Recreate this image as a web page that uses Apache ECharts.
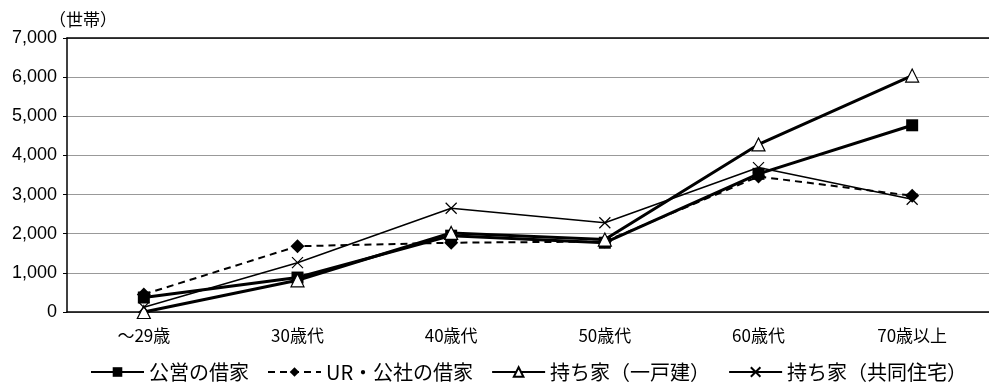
<!DOCTYPE html>
<html>
<head>
<meta charset="utf-8">
<script src="https://cdn.jsdelivr.net/npm/echarts@6/dist/echarts.min.js"></script>
<style>
  html, body { margin: 0; padding: 0; background: #fff; }
  #chart { width: 989px; height: 385px; }
</style>
</head>
<body>
<div id="chart"></div>
<script>
const categories = ['～29歳', '30歳代', '40歳代', '50歳代', '60歳代', '70歳以上'];
const koeiShakuya = [370, 880, 1950, 1770, 3530, 4770];
const urKoshaShakuya = [450, 1680, 1770, 1800, 3460, 2970];
const mochiieIkkodate = [0, 810, 2020, 1850, 4280, 6040];
const mochiieKyodo = [120, 1260, 2650, 2280, 3690, 2880];
const yTicks = [0, 1000, 2000, 3000, 4000, 5000, 6000, 7000];

const chart = echarts.init(document.getElementById('chart'));
const jp = '"Noto Sans CJK JP", sans-serif';
const num = '"Liberation Sans", Arial, sans-serif';

const option = {
    animation: false,
    grid: { left: 67, right: 0, top: 38, bottom: 73 },
    xAxis: [
        {
            type: 'category',
            data: categories,
            boundaryGap: true,
            axisLine: { lineStyle: { color: '#000', width: 1.5 } },
            axisTick: { inside: true, length: 6, lineStyle: { color: '#000' } },
            axisLabel: { color: '#000', fontSize: 17, fontFamily: jp, margin: 15 }
        },
        {
            type: 'category',
            position: 'top',
            data: categories,
            axisLine: { lineStyle: { color: '#000', width: 1.5 } },
            axisTick: { show: false },
            axisLabel: { show: false }
        }
    ],
    yAxis: {
        type: 'value',
        min: yTicks[0],
        max: yTicks[yTicks.length - 1],
        interval: 1000,
        name: '（世帯）',
        nameLocation: 'end',
        nameGap: 10,
        nameTextStyle: { color: '#000', fontSize: 17, fontFamily: jp, align: 'right', padding: [0, -50, 0, 0] },
        axisLine: { show: true, lineStyle: { color: '#000', width: 1.5 } },
        axisTick: { show: true, length: 4, lineStyle: { color: '#000' } },
        axisLabel: {
            color: '#000', fontSize: 18, fontFamily: num, margin: 10,
            formatter: v => v.toLocaleString('en-US')
        },
        splitLine: { lineStyle: { color: '#999', width: 1 } }
    },
    legend: {
        top: 357,
        left: 85,
        itemWidth: 53,
        itemHeight: 12,
        itemGap: 18,
        textStyle: { color: '#000', fontSize: 20, fontFamily: jp },
        data: ['公営の借家', 'UR・公社の借家', '持ち家（一戸建）', '持ち家（共同住宅）']
    },
    series: [
        {
            name: '公営の借家',
            type: 'line',
            data: koeiShakuya,
            symbol: 'rect',
            symbolSize: 12,
            lineStyle: { color: '#000', width: 3 },
            itemStyle: { color: '#000' }
        },
        {
            name: 'UR・公社の借家',
            type: 'line',
            data: urKoshaShakuya,
            symbol: 'diamond',
            symbolSize: 14,
            lineStyle: { color: '#000', width: 2, type: [7, 5] },
            itemStyle: { color: '#000' }
        },
        {
            name: '持ち家（一戸建）',
            type: 'line',
            data: mochiieIkkodate,
            symbol: 'triangle',
            symbolSize: 13,
            lineStyle: { color: '#000', width: 3 },
            itemStyle: { color: '#fff', borderColor: '#000', borderWidth: 1.2 }
        },
        {
            name: '持ち家（共同住宅）',
            type: 'line',
            data: mochiieKyodo,
            symbol: 'path://M0,0L10,10M10,0L0,10',
            symbolSize: 11,
            lineStyle: { color: '#000', width: 1.5 },
            itemStyle: { color: 'none', borderColor: '#000', borderWidth: 1.2 }
        }
    ]
};

chart.setOption(option);
window.addEventListener('resize', () => chart.resize());
</script>
</body>
</html>
